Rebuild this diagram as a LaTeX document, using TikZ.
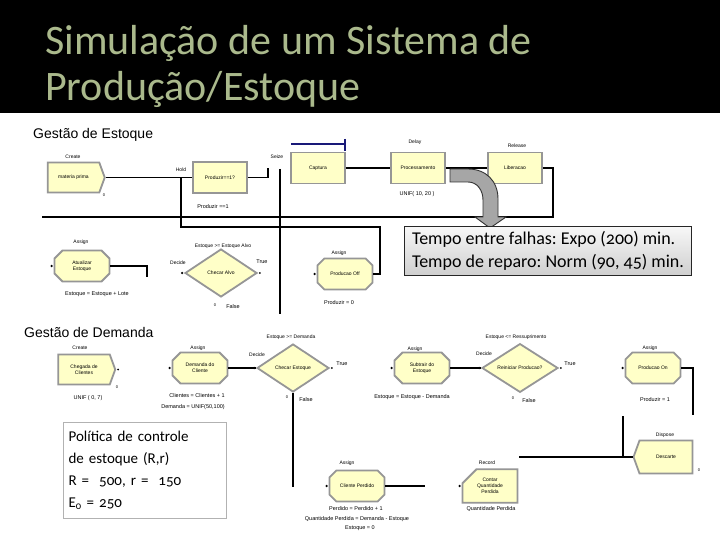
\documentclass[tikz,border=0pt]{standalone}
\usepackage{fontspec}
\usetikzlibrary{shapes.geometric,shapes.misc,shapes.symbols}
\newfontfamily\arialf{Liberation Sans}
\newfontfamily\carl[Numbers=OldStyle]{Carlito}
\definecolor{titlegreen}{RGB}{170,185,140}
\definecolor{modfill}{RGB}{255,255,200}
\definecolor{modedge}{RGB}{150,150,150}
\definecolor{arrowgray}{RGB}{166,166,166}
\definecolor{qnavy}{RGB}{25,25,120}
\tikzset{
  modbase/.style={draw=modedge, line width=1.8pt, fill=modfill, font=\arialf\fontsize{5}{6}\selectfont, align=center, inner sep=1pt},
  procbox/.style={modbase, rectangle, minimum width=54pt, minimum height=31pt},
  assignbox/.style={modbase, chamfered rectangle, chamfered rectangle xsep=4pt, chamfered rectangle ysep=4pt, minimum width=55pt, minimum height=31pt},
  recordbox/.style={modbase, chamfered rectangle, chamfered rectangle corners=north west, chamfered rectangle xsep=6pt, chamfered rectangle ysep=8pt, minimum width=55pt, minimum height=33pt},
  createbox/.style={modbase, signal, signal to=east, signal pointer angle=140, minimum width=57pt, minimum height=30pt},
  disposebox/.style={modbase, signal, signal to=west, signal pointer angle=140, minimum width=59pt, minimum height=33pt},
  decidebox/.style={modbase, diamond, inner sep=0pt, minimum width=72pt, minimum height=48pt},
  lbl/.style={font=\arialf\fontsize{5}{6}\selectfont, inner sep=0pt},
  fml/.style={font=\arialf\fontsize{5.5}{6.5}\selectfont, inner sep=0pt},
  cnt/.style={font=\arialf\fontsize{4}{5}\selectfont, inner sep=0pt},
  hdr/.style={font=\arialf\fontsize{14}{16}\selectfont, inner sep=0pt},
  wire/.style={draw=black, line width=1.8pt},
  wirefill/.style={fill=black},
  queue/.style={draw=qnavy, line width=1.4pt},
  dot/.style={fill=black},
  ttl/.style={font=\carl\fontsize{42}{46}\selectfont, text=titlegreen, inner sep=0pt, anchor=base west}
}
\begin{document}
\begin{tikzpicture}[x=1pt,y=-1pt]
\useasboundingbox (0,0) rectangle (720,540);
\fill[white] (0,0) rectangle (720,540);
\fill[black] (0,0) rectangle (720,113);

% title
\node[ttl] (t1) at (45,55) {Simulação de um Sistema de};
\node[ttl] (t2) at (45,101) {Produção/Estoque};

% section headers
\node[hdr, anchor=base west] (hdrE) at (33,139) {Gestão de Estoque};
\node[hdr, anchor=base west] (hdrD) at (24,337) {Gestão de Demanda};

% connector coordinates
\coordinate (hs) at (268,168);
\coordinate (va) at (280,169);
\coordinate (vb) at (280,314);
\coordinate (r1) at (553,217);
\coordinate (r2) at (42,217);
\coordinate (a1) at (147,277);
\coordinate (p1) at (380,227);
\coordinate (p2) at (181,227);
\coordinate (p3) at (181,177.5);
\coordinate (q1) at (291,144);
\coordinate (q2) at (345,144);
\coordinate (q3) at (345,139);
\coordinate (q4) at (345,151);

% ---------- Gestao de Estoque modules ----------
\node[createbox] (matprima) at (73.5,177.5) {materia prima};
\node[lbl] (lcreate1) at (73,157) {Create};
\node[cnt] (c0a) at (104,195) {0};

\node[procbox] (hold) at (220,177.5) {Produzir==1?};
\node[lbl] (lhold) at (181,170) {Hold};
\node[fml] (fhold) at (213,207) {Produzir ==1};

\node[procbox] (captura) at (318,168) {Captura};
\node[lbl] (lseize) at (277,157) {Seize};

\node[procbox] (proc) at (418,168) {Processamento};
\node[lbl] (ldelay) at (415,142) {Delay};
\node[fml] (fdelay) at (417,194) {UNIF( 10, 20 )};

\node[procbox] (lib) at (515,168) {Liberacao};
\node[lbl] (lrel) at (517,146) {Release};

\node[assignbox] (atual) at (82,266) {Atualizar\\Estoque};
\node[lbl] (lassign1) at (81,242) {Assign};
\node[fml] (fatual) at (97,294) {Estoque = Estoque + Lote};

\node[decidebox] (chAlvo) at (221,273) {Checar Alvo};
\node[lbl] (lalvo) at (223,246) {Estoque >= Estoque Alvo};
\node[lbl] (ldec1) at (178,263) {Decide};
\node[fml] (talvo) at (262,262) {True};
\node[fml] (falvo) at (233,307) {False};
\node[cnt] (c0b) at (215,305) {0};

\node[assignbox] (poff) at (345,274) {Producao Off};
\node[lbl] (lassign2) at (339,253) {Assign};
\node[fml] (fpoff) at (339,303) {Produzir = 0};

% queue line of Seize
\draw[queue] (q1) -- (q2);
\draw[queue] (q3) -- (q4);

% connectors (stock)
\draw[wire] (matprima.east) -- (hold.west);
\fill[wirefill] ([yshift=-0.9pt]matprima.east) rectangle ([yshift=0.9pt]hold.west);
\draw[wire] (hold.east) -| (hs);
\fill[wirefill] ([yshift=-0.9pt]hold.east) rectangle ([xshift=0.9pt,yshift=0.9pt]hold.east -| hs);
\fill[wirefill] ([xshift=-0.9pt,yshift=0.9pt]hold.east -| hs) rectangle ([xshift=0.9pt]hs);
\draw[wire] (va) -- (vb);
\draw[wire] (captura.east) -- (proc.west);
\fill[wirefill] ([yshift=-0.9pt]captura.east) rectangle ([yshift=0.9pt]proc.west);
\draw[wire] (proc.east) -- (lib.west);
\draw[wire] (lib.east) -| (r1) -- (r2);
\draw[wire] (atual.east) -| (a1);
\fill[wirefill] ([yshift=-0.9pt]atual.east) rectangle ([xshift=0.9pt,yshift=0.9pt]atual.east -| a1);
\fill[wirefill] ([xshift=-0.9pt,yshift=-0.9pt]atual.east -| a1) rectangle ([xshift=0.9pt]a1);
\draw[wire] (poff.east) -| (p1) -- (p2) -- (p3);

% entry dots
\fill[dot] ([xshift=-2pt]atual.west) circle (1.3pt);
\fill[dot] ([xshift=-2pt]chAlvo.west) circle (1.3pt);
\fill[dot] ([xshift=2pt]chAlvo.east) circle (1pt);
\fill[dot] ([xshift=-2pt]poff.west) circle (1.3pt);

% gray failure arrow
\draw[fill=arrowgray, draw=gray!40!black, line width=0.9pt]
  (450,169) -- (468,169) .. controls (486,169) and (498,181) .. (498,199)
  -- (498,217) -- (506,217) -- (490,228) -- (475,217) -- (483,217) -- (483,200)
  .. controls (483,190) and (477,182) .. (468,182) -- (450,182) -- cycle;

% failure text box
\node[draw=black!85, line width=1pt, top color=gray!6, bottom color=gray!38,
      anchor=north west, minimum width=287pt, minimum height=49pt,
      align=left, inner sep=1.5pt, font=\carl\fontsize{18}{23}\selectfont\frenchspacing] (falhas) at (404,226)
  {Tempo entre falhas: Expo (200) min.\\Tempo de reparo: Norm (90, 45) min.};

% ---------- Gestao de Demanda modules ----------
\node[createbox] (chegada) at (84,369.5) {Chegada de\\Clientes};
\node[lbl] (lcreate2) at (80,348) {Create};
\node[fml] (fcheg) at (88,398) {UNIF ( 0, 7)};
\node[cnt] (c0c) at (117,387) {0};

\node[assignbox] (demanda) at (200,368) {Demanda do\\Cliente};
\node[lbl] (lassign3) at (198,348) {Assign};
\node[fml] (fdem1) at (197,396) {Clientes = Clientes + 1};
\node[fml] (fdem2) at (193,407) {Demanda = UNIF(50,100)};

\node[decidebox] (chEst) at (293,368) {Checar Estoque};
\node[lbl] (lest) at (291,337) {Estoque >= Demanda};
\node[lbl] (ldec2) at (257,355) {Decide};
\node[fml] (test) at (342,364) {True};
\node[fml] (fest) at (306,400) {False};
\node[cnt] (c0d) at (287,397) {0};

\node[assignbox] (subtr) at (422,368) {Subtrair do\\Estoque};
\node[lbl] (lassign4) at (415,349) {Assign};
\node[fml] (fsub) at (412,397) {Estoque = Estoque - Demanda};

\node[decidebox, minimum width=76pt] (reini) at (520,368) {Reiniciar Producao?};
\node[lbl] (lrei) at (516,337) {Estoque <= Ressuprimento};
\node[lbl] (ldec3) at (484,354) {Decide};
\node[fml] (trei) at (570,364) {True};
\node[fml] (frei) at (529,401) {False};
\node[cnt] (c0e) at (513,398) {0};

\node[assignbox] (pon) at (653,368) {Producao On};
\node[lbl] (lassign5) at (650,348) {Assign};
\node[fml] (fpon) at (655,400) {Produzir = 1};

\node[disposebox] (dispose) at (666,457) {Descarte};
\node[lbl] (ldisp) at (665,435) {Dispose};
\node[cnt] (c0f) at (699,470) {0};

\node[assignbox] (cperd) at (357,486) {Cliente Perdido};
\node[lbl] (lassign6) at (347,463) {Assign};
\node[fml] (fperd1) at (356,509) {Perdido = Perdido + 1};
\node[fml] (fperd2) at (357,519) {Quantidade Perdida = Demanda - Estoque};
\node[fml] (fperd3) at (360,528) {Estoque = 0};

\node[recordbox] (record) at (490,486) {Contar\\Quantidade\\Perdida};
\node[lbl] (lrec) at (487,463) {Record};
\node[fml] (frec) at (491,509) {Quantidade Perdida};

% connectors (demand)
\coordinate (f1) at (293,487);
\coordinate (o1) at (693,415);
\coordinate (d1) at (623,416);
\coordinate (d2) at (623,457);
\coordinate (d0) at (519,457);
\coordinate (k1) at (425,486);
\draw[wire] (demanda.east) -- (chEst.west);
\fill[wirefill] ([yshift=-0.9pt]demanda.east) rectangle ([yshift=0.9pt]chEst.west);
\draw[wire] (chEst.south) -- (f1);
\draw[wire] (subtr.east) -- (reini.west);
\fill[wirefill] ([yshift=-0.9pt]subtr.east) rectangle ([yshift=0.9pt]reini.west);
\draw[wire] (pon.east) -| (o1);
\draw[wire] (d1) -- (d2);
\draw[wire] (d0) -- (dispose.west);
\draw[wire] (cperd.east) -- (k1);
\fill[wirefill] ([yshift=-0.9pt]cperd.east) rectangle ([yshift=0.9pt]k1);

\fill[dot] ([xshift=2pt]chegada.east) circle (1pt);
\fill[dot] ([xshift=-2pt]demanda.west) circle (1.3pt);
\fill[dot] ([xshift=-2pt]chEst.west) circle (1.3pt);
\fill[dot] ([xshift=2pt]chEst.east) circle (1pt);
\fill[dot] ([xshift=-2pt]subtr.west) circle (1.3pt);
\fill[dot] ([xshift=-2pt]reini.west) circle (1.3pt);
\fill[dot] ([xshift=2pt]reini.east) circle (1pt);
\fill[dot] ([xshift=-2pt]pon.west) circle (1.3pt);
\fill[dot] ([xshift=-2pt]cperd.west) circle (1.3pt);
\fill[dot] ([xshift=-2pt]record.west) circle (1.3pt);

% policy text box
\node[draw=gray!60, line width=1.2pt, fill=white, anchor=north west,
      minimum width=163pt, minimum height=96pt, text width=153pt, align=left,
      inner sep=5pt, font=\carl\fontsize{15}{22}\selectfont\frenchspacing] (politica) at (63,422)
  {Política de controle\\de estoque (R,r)\\R =\ \ 500, r =\ \ 150\\E\textsubscript{0} = 250};
\end{tikzpicture}
\end{document}
